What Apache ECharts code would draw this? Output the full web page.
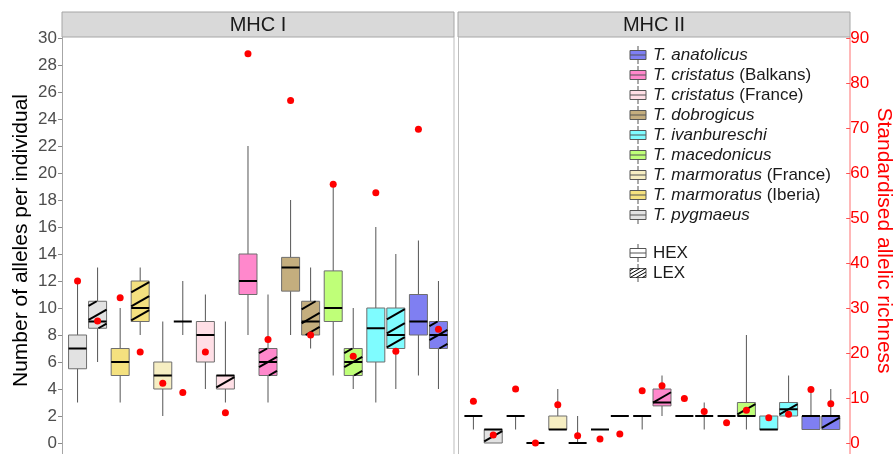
<!DOCTYPE html>
<html><head><meta charset="utf-8">
<script src="https://cdn.jsdelivr.net/npm/echarts@6/dist/echarts.min.js"></script>
<style>html,body{margin:0;padding:0;background:#fff}#c{width:895px;height:454px}</style>
</head><body><div id="c"></div>
<script>
// ---------- DATA ----------
const species = ['T. pygmaeus', 'T. marmoratus (Iberia)', 'T. marmoratus (France)', 'T. cristatus (France)',
  'T. cristatus (Balkans)', 'T. dobrogicus', 'T. macedonicus', 'T. ivanbureschi', 'T. anatolicus'];
const speciesColors = ['#e2e2e2', '#f4e17f', '#f6eec2', '#ffdfe6', '#ff88cc', '#c4ae7e', '#bfff78', '#7ffcff', '#7f7ff2'];
const legendOrder = [8, 4, 3, 5, 7, 6, 2, 1, 0];
const panels = ['MHC I', 'MHC II'];
const leftTicks = [0, 30, 2];
const rightTicks = [0, 90, 10];
// box stats: [low, q1, median, q3, high]
const mhc1Hex = [[3,5.5,7,8,12],[3,5,6,7,10],[2,4,5,6,9],[4,6,8,9,11],[8,11,12,14,22],[8,11.25,13,13.75,18],[5,9,10,12.75,19],[3,6,8.5,10,16],[5,8,9,11,15]];
const mhc1Lex = [[6,8.5,9,10.5,13],[8,9,10,12,13],[8,9,9,9,12],[3,4,5,5,9],[3,5,6,7,11],[7,8,9,10.5,13],[4,5,6,7,10],[4,7,8,10,14],[4,7,8,9,12]];
const mhc2Hex = [[1,2,2,2,2],[1,2,2,2,2],[1,1,1,2,4],[1,1,1,1,1],[1,2,2,2,2],[2,2,2,2,2],[2,2,2,2,2],[1,1,1,2,2],[1,1,2,2,4]];
const mhc2Lex = [[0,0,1,1,1],[0,0,0,0,0],[0,0,0,0,2],[2,2,2,2,2],[2,2.75,3,4,5],[1,2,2,2,3],[1,2,2,3,8],[2,2,2.5,3,5],[1,1,2,2,4]];
// standardised allelic richness
const rich1Hex = [36.0, 32.3, 13.3, 20.2, 86.5, 76.1, 57.5, 55.6, 69.7];
const rich1Lex = [27.1, 20.2, 11.2, 6.7, 23.0, 24.0, 19.3, 20.4, 25.3];
const rich2Hex = [9.3, 12.0, 8.5, 0.9, 11.6, 9.9, 4.5, 5.6, 11.9];
const rich2Lex = [1.8, 0.0, 1.6, 2.0, 12.7, 7.0, 7.3, 6.4, 8.7];

// ---------- LAYOUT ----------
const FONT = 'Liberation Sans, Arial, sans-serif';
const DODGE = 0.235;
const HALF_W = 9;
const TAN = Math.tan(30 * Math.PI / 180);

function hatch(x0, y0, x1, y1, spacing, lw) {
  const cx = (x0 + x1) / 2, cy = (y0 + y1) / 2, out = [];
  for (let k = -30; k <= 30; k++) {
    const c = cy + k * spacing;
    const xs = Math.max(x0, cx + (c - y1) / TAN);
    const xe = Math.min(x1, cx + (c - y0) / TAN);
    if (xe - xs > 0.3) {
      out.push({type: 'line', silent: true,
        shape: {x1: xs, y1: c - (xs - cx) * TAN, x2: xe, y2: c - (xe - cx) * TAN},
        style: {stroke: '#000', lineWidth: lw}});
    }
  }
  return out;
}

function boxData(stats, lex) {
  return stats.map((s, i) => [i + 1 + (lex ? DODGE : -DODGE), i, lex ? 1 : 0].concat(s));
}
function dotData(vals, lex) {
  return vals.map((v, i) => [i + 1 + (lex ? DODGE : -DODGE), v]);
}

function renderBox(params, api) {
  const x = api.value(0), si = api.value(1), lex = api.value(2);
  const lo = api.value(3), q1 = api.value(4), md = api.value(5), q3 = api.value(6), hi = api.value(7);
  const cx = api.coord([x, 0])[0];
  const Y = v => api.coord([x, v])[1];
  const ch = [];
  const ws = {stroke: '#555', lineWidth: 1};
  if (hi > q3) ch.push({type: 'line', shape: {x1: cx, y1: Y(q3), x2: cx, y2: Y(hi)}, style: ws});
  if (q1 > lo) ch.push({type: 'line', shape: {x1: cx, y1: Y(lo), x2: cx, y2: Y(q1)}, style: ws});
  if (q3 > q1) {
    const top = Y(q3), bot = Y(q1);
    ch.push({type: 'rect', shape: {x: cx - HALF_W, y: top, width: 2 * HALF_W, height: bot - top},
      style: {fill: speciesColors[si], stroke: '#6e6e6e', lineWidth: 1}});
    if (lex) hatch(cx - HALF_W, top, cx + HALF_W, bot, 14, 2).forEach(e => ch.push(e));
  }
  ch.push({type: 'line', shape: {x1: cx - HALF_W, y1: Y(md), x2: cx + HALF_W, y2: Y(md)},
    style: {stroke: '#000', lineWidth: 2}});
  return {type: 'group', children: ch};
}

const boxSeries = [[mhc1Hex, mhc1Lex], [mhc2Hex, mhc2Lex]];
const dotSeries = [[rich1Hex, rich1Lex], [rich2Hex, rich2Lex]];
const series = [];
[0, 1].forEach(p => {
  [0, 1].forEach(l => {
    series.push({type: 'custom', xAxisIndex: p, yAxisIndex: p * 2, renderItem: renderBox,
      data: boxData(boxSeries[p][l], l), encode: {x: 0, y: [3, 4, 5, 6, 7]}, silent: true, z: 2});
  });
  [0, 1].forEach(l => {
    series.push({type: 'scatter', xAxisIndex: p, yAxisIndex: p * 2 + 1, data: dotData(dotSeries[p][l], l),
      symbolSize: 7, itemStyle: {color: '#ff0000', opacity: 1}, clip: false, z: 5, silent: true});
  });
});

// ---------- GRAPHICS: strips, borders, legend ----------
const g = [];
const stripX = [[62, 454], [458, 850]];
stripX.forEach((sx, i) => {
  g.push({type: 'rect', shape: {x: sx[0], y: 12, width: sx[1] - sx[0], height: 25},
    style: {fill: '#d9d9d9', stroke: '#a6a6a6', lineWidth: 1}});
  g.push({type: 'text', x: (sx[0] + sx[1]) / 2, y: 25,
    style: {text: panels[i], fontSize: 20, fontFamily: FONT, fill: '#1a1a1a', align: 'center', verticalAlign: 'middle'}});
});
g.push({type: 'line', shape: {x1: 62.5, y1: 37, x2: 62.5, y2: 454}, style: {stroke: '#a6a6a6', lineWidth: 1}});
g.push({type: 'line', shape: {x1: 454, y1: 37, x2: 454, y2: 454}, style: {stroke: '#bdbdbd', lineWidth: 1}});
g.push({type: 'line', shape: {x1: 458.5, y1: 37, x2: 458.5, y2: 454}, style: {stroke: '#bdbdbd', lineWidth: 1}});
g.push({type: 'line', shape: {x1: 850, y1: 37, x2: 850, y2: 454}, style: {stroke: '#ff7070', lineWidth: 1}});

function richName(name) {
  const m = name.match(/^(T\. \w+)(.*)$/);
  return '{i|' + m[1] + '}' + m[2];
}
function legendIcon(y, fill, lexKey) {
  const x0 = 630, x1 = 646, cx = 638;
  g.push({type: 'line', shape: {x1: cx, y1: y - 9, x2: cx, y2: y + 9}, style: {stroke: '#555', lineWidth: 1}});
  g.push({type: 'rect', shape: {x: x0, y: y - 4.5, width: x1 - x0, height: 9},
    style: {fill: fill, stroke: '#555', lineWidth: 1}});
  if (lexKey) hatch(x0, y - 4.5, x1, y + 4.5, 3.5, 1).forEach(e => g.push(e));
  else g.push({type: 'line', shape: {x1: x0, y1: y, x2: x1, y2: y}, style: {stroke: '#555', lineWidth: 1}});
}
legendOrder.forEach((si, k) => {
  const y = 55 + 20 * k;
  legendIcon(y, speciesColors[si], false);
  g.push({type: 'text', x: 653, y: y,
    style: {text: richName(species[si]), fontSize: 17, fontFamily: FONT, fill: '#1a1a1a', verticalAlign: 'middle',
      rich: {i: {fontStyle: 'italic', fontSize: 17, fontFamily: FONT, fill: '#1a1a1a'}}}});
});
['HEX', 'LEX'].forEach((t, k) => {
  const y = 253 + 20 * k;
  legendIcon(y, '#ffffff', k === 1);
  g.push({type: 'text', x: 653, y: y,
    style: {text: t, fontSize: 17, fontFamily: FONT, fill: '#1a1a1a', verticalAlign: 'middle'}});
});

// ---------- CHART ----------
const chart = echarts.init(document.getElementById('c'), null, {renderer: 'canvas'});
const xAxisBase = {type: 'value', min: 0.4, max: 9.6, show: false};
chart.setOption({
  animation: false,
  backgroundColor: '#fff',
  grid: [
    {left: 62, right: 441, top: 38, bottom: 11, containLabel: false},
    {left: 458, right: 45, top: 38, bottom: 11, containLabel: false}
  ],
  xAxis: [Object.assign({gridIndex: 0}, xAxisBase), Object.assign({gridIndex: 1}, xAxisBase)],
  yAxis: [
    {gridIndex: 0, type: 'value', min: leftTicks[0], max: leftTicks[1], interval: leftTicks[2], position: 'left',
      name: 'Number of alleles per individual', nameLocation: 'middle', nameGap: 30,
      nameTextStyle: {fontSize: 21, fontFamily: FONT, color: '#000'},
      axisLine: {show: false}, splitLine: {show: false},
      axisTick: {show: true, length: 4, lineStyle: {color: '#8a8a8a'}},
      axisLabel: {fontSize: 17, fontFamily: FONT, color: '#4d4d4d', margin: 5}},
    {gridIndex: 0, type: 'value', min: rightTicks[0], max: rightTicks[1], show: false},
    {gridIndex: 1, type: 'value', min: leftTicks[0], max: leftTicks[1], show: false},
    {gridIndex: 1, type: 'value', min: rightTicks[0], max: rightTicks[1], interval: rightTicks[2], position: 'right',
      name: 'Standardised allelic richness', nameLocation: 'middle', nameGap: 24, nameRotate: -90,
      nameTextStyle: {fontSize: 21, fontFamily: FONT, color: '#ff0000'},
      axisLine: {show: false}, splitLine: {show: false},
      axisTick: {show: true, length: 4, lineStyle: {color: '#ff5050'}},
      axisLabel: {fontSize: 17, fontFamily: FONT, color: '#ff0000', margin: 4}}
  ],
  graphic: {elements: g},
  series: series
});
</script></body></html>
